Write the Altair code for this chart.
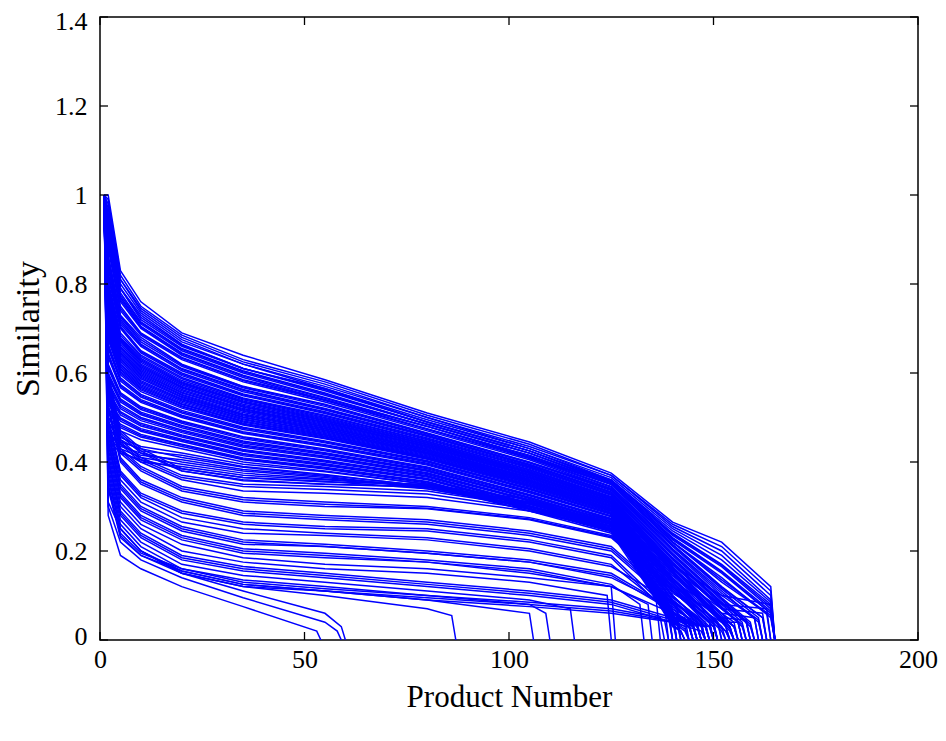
import altair as alt
import pandas as pd

N = None
# knot positions (product number) at which each curve's similarity is read
KNOTS = [1, 2, 5, 10, 20, 35, 55, 80, 105, 125, 140, 152]

# dense upper band of curves
BAND = [
    [1, 1.00, .83, .76, .69, .64, .585, .51, .445, .375, .265, .22],
    [1, .99, .82, .75, .685, .63, .58, .505, .44, .37, .26, .21],
    [1, .98, .81, .745, .68, .625, .575, .50, .435, .37, .255, .20],
    [1, .97, .81, .74, .675, .62, .57, .50, .43, .365, .25, .19],
    [1, .96, .80, .735, .67, .62, .565, .495, .43, .36, .245, .18],
    [1, .95, .79, .73, .665, .61, .565, .49, .425, .36, .24, .17],
    [1, .94, .79, .72, .66, .61, .56, .49, .425, .355, .235, .165],
    [1, .93, .78, .715, .655, .605, .555, .485, .42, .355, .23, .155],
    [1, .92, .77, .71, .65, .60, .55, .485, .42, .35, .225, .15],
    [1, .91, .77, .705, .645, .595, .545, .48, .415, .35, .22, .14],
    [1, .90, .76, .70, .64, .59, .54, .48, .41, .35, .22, .13],
    [1, .89, .75, .69, .635, .585, .54, .475, .41, .345, .215, .12],
    [1, .88, .74, .685, .63, .58, .535, .47, .405, .34, .21, .115],
    [1, .865, .73, .68, .62, .57, .53, .465, .40, .34, .205, .11],
    [1, .855, .725, .67, .615, .567, .525, .463, .398, .336, .20, .10],
    [1, .845, .72, .665, .61, .563, .52, .46, .395, .333, .195, .095],
    [1, .835, .71, .66, .605, .558, .517, .457, .392, .33, .19, .09],
    [1, .825, .705, .65, .60, .553, .513, .454, .39, .328, .185, .085],
    [1, .815, .70, .645, .594, .549, .509, .45, .386, .325, .18, .08],
    [1, .805, .69, .64, .59, .544, .505, .447, .383, .322, .175, .075],
    [1, .795, .68, .633, .583, .54, .50, .444, .38, .32, .17, .07],
    [1, .785, .675, .627, .578, .535, .496, .44, .377, .317, .165, .06],
    [1, .775, .67, .62, .573, .53, .492, .438, .374, .314, .16, .05],
    [1, .765, .66, .614, .568, .525, .488, .435, .371, .311, .155, .045],
    [1, .755, .654, .608, .563, .52, .484, .432, .368, .309, .15, .04],
    [1, .745, .646, .602, .557, .516, .48, .428, .365, .306, .14, .03],
    [1, .735, .64, .596, .552, .511, .476, .425, .362, .303, .135, N],
    [1, .725, .632, .59, .547, .506, .472, .422, .359, .30, .13, N],
    [1, .715, .625, .583, .542, .501, .468, .419, .356, .298, .125, N],
    [1, .705, .618, .577, .537, .497, .464, .416, .353, .295, .12, N],
    [1, .695, .61, .571, .531, .492, .46, .412, .35, .292, .11, N],
    [1, .685, .603, .565, .526, .487, .456, .409, .347, .29, .10, N],
    [1, .675, .596, .558, .521, .483, .452, .406, .344, .287, .095, N],
    [1, .665, .589, .552, .516, .478, .447, .403, .341, .285, .09, N],
    [1, .655, .582, .546, .51, .473, .443, .40, .338, .282, .085, N],
    [1, .645, .574, .54, .505, .468, .439, .397, .335, .279, .08, N],
    [1, .635, .567, .534, .50, .464, .435, .393, .331, .277, .07, N],
    [1, .62, .556, .524, .492, .457, .429, .389, .327, .273, .065, N],
    [1, .61, .549, .518, .487, .452, .425, .385, .324, .27, .06, N],
    [1, .60, .542, .512, .482, .447, .421, .382, .321, .267, .055, N],
    [1, .59, .535, .506, .477, .442, .417, .379, .318, .264, .05, N],
    [1, .58, .528, .50, .472, .438, .413, .376, .315, .262, .045, N],
    [1, .57, .52, .493, .466, .433, .409, .372, .312, .259, .04, N],
    [1, .56, .513, .487, .461, .428, .404, .369, .308, .256, .035, N],
    [1, .55, .506, .481, .456, .424, .40, .366, .305, .254, .03, N],
    [1, .54, .499, .475, .451, .419, .396, .363, .302, .251, .06, N],
    [1, .53, .492, .469, .446, .414, .392, .36, .299, .248, N, N],
    [1, .52, .485, .462, .44, .409, .388, .356, .296, .246, N, N],
    [1, .51, .477, .456, .435, .405, .384, .353, .293, .243, N, N],
    [1, .50, .47, .45, .43, .40, .38, .35, .29, .24, N, N],
    # curves lying between the ones above
    [1, .945, .79, .725, .663, .61, .563, .49, .425, .358, .238, .168],
    [1, .925, .775, .713, .653, .603, .553, .485, .42, .353, .228, .153],
    [1, .905, .765, .703, .643, .593, .543, .48, .413, .35, .22, .135],
    [1, .885, .745, .688, .633, .583, .538, .473, .408, .343, .213, .118],
    [1, .86, .728, .675, .618, .569, .528, .464, .399, .338, .203, .105],
    [1, .84, .715, .663, .608, .561, .519, .459, .394, .332, .193, .093],
    [1, .82, .703, .648, .597, .551, .511, .452, .388, .327, .183, .083],
    [1, .80, .685, .637, .587, .542, .503, .446, .382, .321, .173, .073],
    [1, .78, .673, .624, .576, .533, .494, .439, .376, .316, .163, .055],
    [1, .76, .657, .611, .566, .523, .486, .434, .37, .31, .153, .043],
    [1, .74, .643, .599, .555, .514, .478, .427, .364, .305, .138, .025],
    [1, .72, .629, .587, .545, .504, .47, .421, .358, .299, .128, N],
    [1, .70, .614, .574, .534, .495, .462, .414, .352, .294, .115, N],
    [1, .68, .60, .562, .524, .485, .454, .408, .346, .289, .098, N],
    [1, .66, .586, .549, .513, .476, .445, .402, .34, .284, .088, N],
    [1, .64, .571, .537, .503, .466, .437, .395, .333, .278, .075, N],
    [1, .615, .553, .521, .49, .455, .427, .387, .326, .272, .063, N],
    [1, .595, .539, .509, .48, .445, .419, .381, .32, .266, .053, N],
    [1, .575, .524, .497, .469, .436, .411, .374, .314, .261, .043, N],
    [1, .555, .51, .484, .459, .426, .402, .368, .307, .255, .033, N],
    [1, .535, .496, .472, .449, .417, .394, .362, .301, .25, .05, N],
    [1, .515, .481, .459, .438, .407, .386, .355, .295, .245, N, N],
    [1, .49, .45, .425, .415, .39, .372, .345, .30, .25, .07, N],
    [1, .48, .44, .415, .405, .383, .368, .34, .30, .255, .09, N],
    [1, .47, .43, .41, .395, .375, .362, .348, .31, .26, .12, N],
    [1, .46, .425, .40, .39, .37, .36, .345, .305, .26, .13, .03],
    [1, .50, .455, .435, .42, .395, .378, .35, .295, .245, .06, N],
    [1, .49, .445, .43, .41, .388, .37, .346, .29, .25, .08, N],
    [1, .47, .435, .42, .40, .38, .365, .343, .30, .255, .10, N],
    [1, .45, .42, .405, .385, .365, .357, .34, .30, .255, .11, N],
    # curves that keep a tail out to the last products
    [1, .79, .678, .63, .58, .537, .498, .442, .378, .318, .168, .10],
    [1, .77, .665, .617, .57, .527, .49, .436, .372, .312, .158, .08],
    [1, .75, .65, .605, .56, .518, .482, .43, .366, .307, .145, .07],
    [1, .73, .636, .593, .55, .508, .474, .424, .36, .301, .133, .06],
    [1, .71, .62, .58, .54, .50, .466, .418, .355, .296, .12, .05],
    [1, .69, .607, .568, .529, .49, .458, .41, .348, .291, .105, .04],
]
BAND_END_X = [165, 165, 165, 165, 165, 165, 165, 165, 165, 165,
              164, 163, 162, 162, 161, 160, 160, 159, 158, 158,
              157, 156, 156, 155, 155, 154, 153, 152, 151, 151,
              150, 149, 149, 148, 148, 147, 147, 146, 146, 145,
              145, 144, 144, 143, 143, 142, 141, 141, 140, 140,
              165, 165, 165, 163, 162, 160, 159, 158, 156, 155,
              154, 152, 151, 149, 148, 147, 146, 145, 144, 143,
              142, 141, 146, 148, 150, 153, 145, 147, 149, 151,
              165, 164, 163, 161, 159, 157]
BAND_END_Y = [.12, .11, .10, .09, .085, .08, .07, .065, .06, .05,
              .06, .05, .05, .04, .05, .04, .03, .04, .04, .03,
              .04, .03, .03, .03, .02, .02, .03, .04, .04, .03,
              .04, .03, .04, .03, .04, .03, .04, .03, .04, .03,
              .04, .03, .02, .02, .02, .04, .07, .06, .06, .05,
              .075, .06, .055, .05, .045, .035, .04, .035, .03, .025,
              .02, .04, .035, .035, .035, .035, .035, .035, .025, .02,
              .05, .06, .03, .03, .04, .02, .03, .03, .03, .03,
              .08, .07, .06, .05, .045, .04]

# sparser middle curves
MID = [
    [1, .60, .47, .43, .385, .365, .355, .35, .315, .27, .17, .07],
    [1, .59, .46, .42, .38, .36, .35, .345, .31, .265, .16, .06],
    [1, .57, .44, .40, .36, .335, .33, .32, .29, .25, .14, .04],
    [1, .56, .43, .39, .345, .32, .31, .30, .275, .235, .12, N],
    [1, .55, .42, .38, .335, .31, .30, .295, .27, .23, .11, N],
    [1, .53, .41, .36, .32, .29, .28, .27, .245, .21, .09, N],
    [1, .52, .40, .35, .31, .28, .27, .26, .235, .20, .08, N],
    [1, .50, .38, .33, .29, .265, .255, .25, .225, .19, .06, N],
    [1, .49, .37, .32, .275, .25, .24, .23, .205, .17, .06, N],
    [1, .48, .36, .31, .265, .24, .235, .225, .20, .165, N, N],
    [1, .47, .35, .30, .255, .225, .215, .20, .18, .15, N, N],
    [1, .46, .34, .29, .245, .215, .21, .195, .175, .14, N, N],
    [1, .45, .33, .28, .235, .205, .195, .18, .16, .125, N, N],
    [1, .44, .32, .27, .225, .195, .185, .175, .15, .12, .06, N],
    [1, .43, .31, .26, .215, .185, .17, .16, .14, N, N, N],
    [1, .42, .30, .25, .20, .175, .16, .15, .13, N, N, N],
    [1, .41, .29, .24, .19, .165, .15, .13, .11, .09, .05, N],
    [1, .40, .28, .23, .18, .155, .14, .12, .10, .08, .04, N],
    [1, .39, .27, .22, .17, .145, .13, .11, .09, N, N, N],
    [1, .38, .26, .21, .16, .135, .12, .10, .08, N, N, N],
    [1, .37, .25, .20, .155, .125, .11, .09, N, N, N, N],
    [1, .36, .25, .20, .15, .12, .10, .07, N, N, N, N],
    [1, .34, .23, .19, .15, .12, .11, .09, .075, .06, N, N],
    [1, .35, .24, .195, .16, .13, .115, .10, .085, .07, N, N],
    [1, .60, .465, .425, .38, .358, .35, .343, .308, .262, .155, .05],
    [1, .555, .425, .385, .34, .315, .305, .296, .272, .232, .115, N],
    [1, .525, .405, .355, .315, .285, .275, .265, .24, .205, .085, N],
    [1, .495, .375, .325, .285, .26, .25, .245, .22, .185, .05, N],
    [1, .465, .345, .295, .25, .22, .21, .195, .175, .145, N, N],
    [1, .445, .325, .275, .23, .20, .19, .175, .155, .12, N, N],
    [1, .405, .285, .235, .185, .16, .145, .125, .105, .085, .045, N],
    [1, .345, .235, .19, .155, .125, .11, .095, .08, .065, N, N],
    [1, .58, .45, .41, .37, .35, .345, .335, .30, .26, .15, .05],
    [1, .575, .445, .405, .365, .345, .338, .328, .295, .255, .145, .045],
]
MID_END_X = [157, 156, 154, 151, 150, 148, 147, 146, 144, 142, 139, 137,
             133, 146, 126, 125, 150, 148, 116, 110, 106, 87, 141, 138,
             155, 150, 147, 145, 140, 135, 149, 139, 155, 154]
MID_END_Y = [.04, .04, .03, .04, .04, .04, .03, .03, .05, .08, .08, .09,
             .08, .03, .12, .10, .03, .02, .07, .06, .06, .055, .04, .05,
             .03, .03, .03, .03, .07, .08, .03, .045, .03, .03]

# lowest curves that reach zero early
LOW = [
    [1, .28, .19, .16, .12, .075, N, N, N, N, N, N],
    [1, .30, .22, .18, .14, .095, .04, N, N, N, N, N],
    [1, .31, .25, .20, .15, .11, .06, N, N, N, N, N],
]
LOW_END_X = [54, 59, 60]
LOW_END_Y = [.02, .02, .03]

X_TICKS = [0, 50, 100, 150, 200]
Y_TICKS = [0, 0.2, 0.4, 0.6, 0.8, 1.0, 1.2, 1.4]

recs = []
for gname, vals, ex, ey in [("b", BAND, BAND_END_X, BAND_END_Y),
                            ("m", MID, MID_END_X, MID_END_Y),
                            ("l", LOW, LOW_END_X, LOW_END_Y)]:
    for i, (row, e, y) in enumerate(zip(vals, ex, ey)):
        lid = f"{gname}{i}"
        for k, v in zip(KNOTS, row):
            if v is not None and k < e - 1:
                recs.append({"id": lid, "x": k, "y": v})
        recs.append({"id": lid, "x": e - 1, "y": y})
        recs.append({"id": lid, "x": e, "y": 0.0})
df = pd.DataFrame(recs)

W, H = 818, 623
FONT = "Liberation Serif"
xs = alt.Scale(domain=[0, 200], nice=False, zero=False)
ys = alt.Scale(domain=[0, 1.4], nice=False)
AX = alt.Axis(values=X_TICKS, title="Product Number", labelPadding=6,
              labelFlush=False,
              titleY=66, titleBaseline="alphabetic", titleFontSize=31)
AY = alt.Axis(values=Y_TICKS, title="Similarity", labelPadding=13, format="~g",
              labelFlush=True, labelFlushOffset=9, titleFontSize=34,
              titleX=-62, titleY=H / 2, titleAngle=270, titleAlign="center",
              titleBaseline="alphabetic")

lines = alt.Chart(df).mark_line(color="#0000ff", strokeWidth=1.5, clip=True).encode(
    x=alt.X("x:Q", scale=xs, axis=AX),
    y=alt.Y("y:Q", scale=ys, axis=AY),
    detail="id:N",
    order="x:Q",
)

ydf = pd.DataFrame({"y": Y_TICKS})
xdf = pd.DataFrame({"x": X_TICKS})
tick_style = dict(color="black", strokeWidth=1.3)
tl = alt.Chart(ydf).mark_rule(**tick_style).encode(
    y=alt.Y("y:Q", scale=ys, axis=AY), x=alt.value(0), x2=alt.value(8))
tr = alt.Chart(ydf).mark_rule(**tick_style).encode(
    y=alt.Y("y:Q", scale=ys, axis=AY), x=alt.value(W - 8), x2=alt.value(W))
tb = alt.Chart(xdf).mark_rule(**tick_style).encode(
    x=alt.X("x:Q", scale=xs, axis=AX), y=alt.value(H), y2=alt.value(H - 8))
tt = alt.Chart(xdf).mark_rule(**tick_style).encode(
    x=alt.X("x:Q", scale=xs, axis=AX), y=alt.value(0), y2=alt.value(8))

chart = alt.layer(lines, tl, tr, tb, tt).properties(
    width=W, height=H,
    padding={"left": 92, "top": 9, "right": 20, "bottom": 90},
    autosize=alt.AutoSizeParams(type="none"),
).configure_axis(
    labelFont=FONT, titleFont=FONT, labelFontSize=26,
    labelColor="black", titleColor="black", titleFontWeight="normal",
    grid=False, ticks=False, tickSize=0, domain=False,
).configure_view(stroke="black", strokeWidth=1.5)

chart.save("out.html", embed_options={"renderer": "svg", "actions": False})
